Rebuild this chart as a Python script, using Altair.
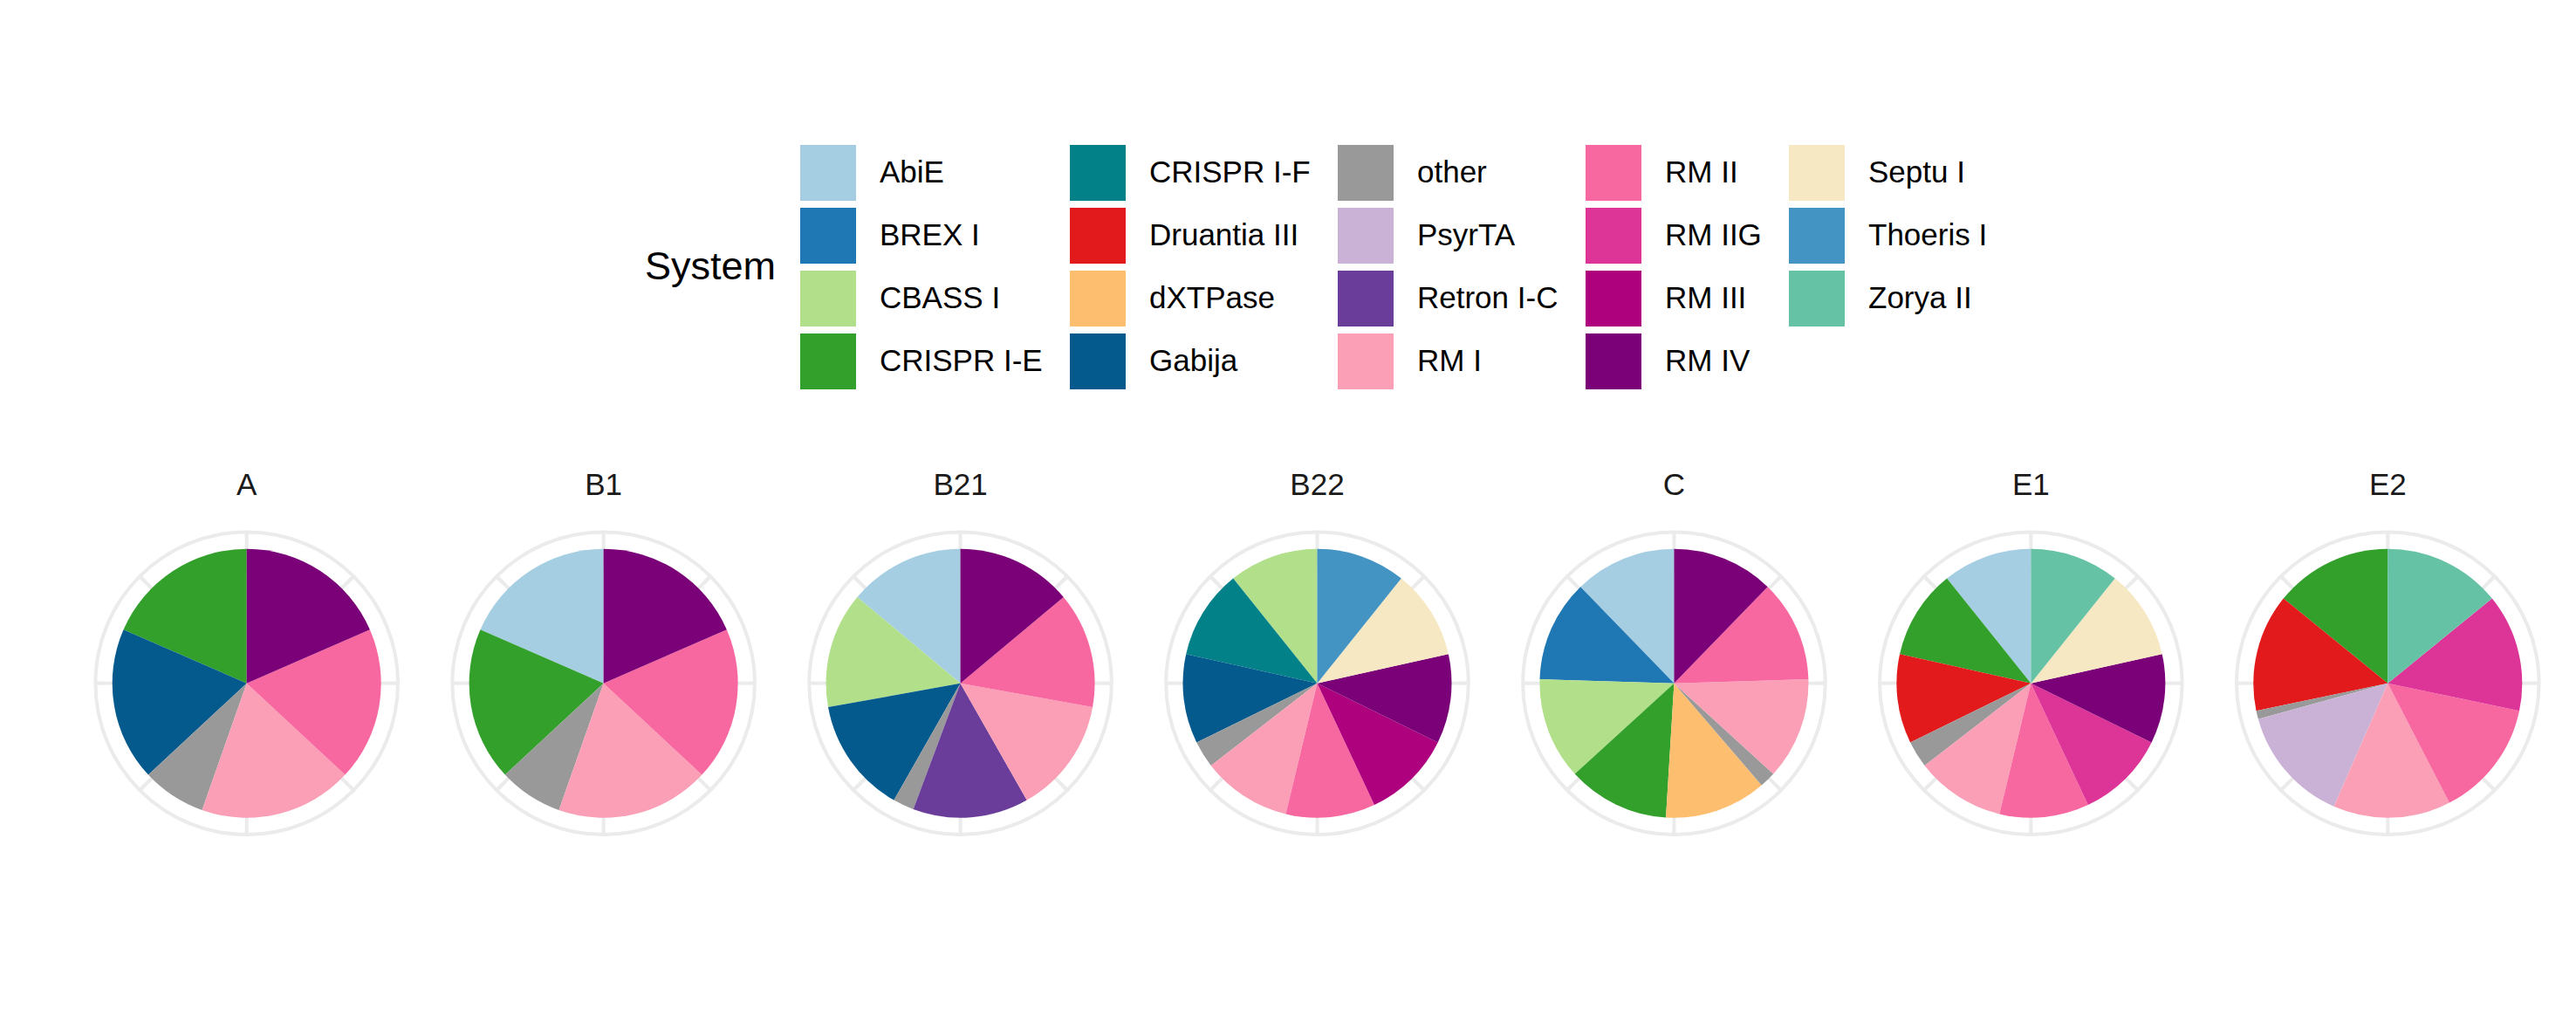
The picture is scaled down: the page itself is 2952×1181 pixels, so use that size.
import math
import altair as alt
import pandas as pd

# ---- data ----
samples = ["A", "B1", "B21", "B22", "C", "E1", "E2"]

systems = ["AbiE", "BREX I", "CBASS I", "CRISPR I-E", "CRISPR I-F", "Druantia III",
           "dXTPase", "Gabija", "other", "PsyrTA", "Retron I-C", "RM I", "RM II",
           "RM IIG", "RM III", "RM IV", "Septu I", "Thoeris I", "Zorya II"]

colors = ["#A6CEE3", "#1F78B4", "#B2DF8A", "#33A02C", "#028189", "#E31A1C",
          "#FDBF6F", "#045A8D", "#999999", "#CAB2D6", "#6A3D9A", "#FA9FB5", "#F768A1",
          "#DD3497", "#AE017E", "#7A0177", "#F6E8C3", "#4393C3", "#66C2A5"]

A_systems = ["CRISPR I-E", "Gabija", "other", "RM I", "RM II", "RM IV"]
A_counts = [12, 12, 5, 12, 12, 12]

B1_systems = ["AbiE", "CRISPR I-E", "other", "RM I", "RM II", "RM IV"]
B1_counts = [12, 12, 5, 12, 12, 12]

B21_systems = ["AbiE", "CBASS I", "Gabija", "other", "Retron I-C", "RM I", "RM II", "RM IV"]
B21_counts = [11, 11, 11, 2, 11, 11, 11, 11]

B22_systems = ["CBASS I", "CRISPR I-F", "Gabija", "other", "RM I", "RM II", "RM III",
               "RM IV", "Septu I", "Thoeris I"]
B22_counts = [10, 10, 10, 3, 10, 10, 10, 10, 10, 10]

C_systems = ["AbiE", "BREX I", "CBASS I", "CRISPR I-E", "dXTPase", "other", "RM I",
             "RM II", "RM IV"]
C_counts = [19, 19, 19, 19, 19, 3, 19, 19, 19]

E1_systems = ["AbiE", "CRISPR I-E", "Druantia III", "other", "RM I", "RM II", "RM IIG",
              "RM IV", "Septu I", "Zorya II"]
E1_counts = [10, 10, 10, 3, 10, 10, 10, 10, 10, 10]

E2_systems = ["CRISPR I-E", "Druantia III", "other", "PsyrTA", "RM I", "RM II", "RM IIG",
              "Zorya II"]
E2_counts = [14, 14, 1, 14, 14, 14, 14, 14]

grid_breaks = [0, 45, 90, 135, 180, 225, 270, 315]

per_sample = {
    "A": (A_systems, A_counts),
    "B1": (B1_systems, B1_counts),
    "B21": (B21_systems, B21_counts),
    "B22": (B22_systems, B22_counts),
    "C": (C_systems, C_counts),
    "E1": (E1_systems, E1_counts),
    "E2": (E2_systems, E2_counts),
}

rows = []
for s in samples:
    syss, cnts = per_sample[s]
    for sy, c in zip(syss, cnts):
        rows.append({"sample": s, "system": sy, "count": c,
                     "ord": len(systems) - 1 - systems.index(sy)})
pie_df = pd.DataFrame(rows)

ring_df = pd.DataFrame({"sample": samples})
spoke_df = pd.DataFrame([{"sample": s, "angle": a} for s in samples for a in grid_breaks])

# ---- layout ----
W, H = 2952, 1181
CY = 782.7
R_PIE = 154
FONT = "Liberation Sans"

xscale = alt.Scale(type="point", domain=samples, range=[282.7, 2736.3], padding=0)
X = alt.X("sample:N", scale=xscale, axis=None)

ring = alt.Chart(ring_df).mark_arc(
    theta=0, theta2=2 * math.pi, radius=175.3, radius2=171.3, color="#EBEBEB"
).encode(x=X, y=alt.value(CY))

spokes = alt.Chart(spoke_df).transform_calculate(
    t0="datum.angle * PI / 180 - 0.0125",
    t1="datum.angle * PI / 180 + 0.0125",
).mark_arc(radius=173, radius2=130, color="#EBEBEB").encode(
    x=X, y=alt.value(CY),
    theta=alt.Theta("t0:Q", scale=None),
    theta2="t1:Q",
)

pie = alt.Chart(pie_df).transform_stack(
    stack="count", groupby=["sample"], as_=["s0", "s1"], offset="normalize",
    sort=[alt.SortField("ord", order="ascending")],
).mark_arc(radius=R_PIE, stroke=None).encode(
    x=X, y=alt.value(CY),
    theta=alt.Theta("s0:Q", scale=alt.Scale(domain=[0, 1], range=[0, 2 * math.pi])),
    theta2="s1:Q",
    color=alt.Color(
        "system:N",
        scale=alt.Scale(domain=systems, range=colors),
        legend=alt.Legend(
            title="System", orient="none", legendX=739, legendY=166,
            columns=5, symbolType="square", symbolSize=4096, symbolStrokeWidth=0,
            symbolOpacity=1, labelFontSize=35, titleFontSize=45,
            labelFont=FONT, titleFont=FONT, labelColor="black", titleColor="black",
            titleFontWeight="normal", titleOrient="left", titleAnchor="middle",
            titleBaseline="middle", titlePadding=27, labelOffset=27,
            columnPadding=31, rowPadding=8, padding=0, labelLimit=500,
            gridAlign="each",
        ),
    ),
)

titles = alt.Chart(ring_df).mark_text(
    font=FONT, fontSize=35, color="#1A1A1A", baseline="alphabetic", align="center"
).encode(x=X, y=alt.value(567), text="sample:N")

chart = alt.layer(ring, spokes, pie, titles).properties(
    width=W, height=H,
    autosize=alt.AutoSizeParams(type="none"),
    padding=0,
    background="white",
).configure_view(stroke=None)

chart.save("out.html", embed_options={"renderer": "svg", "actions": False})
